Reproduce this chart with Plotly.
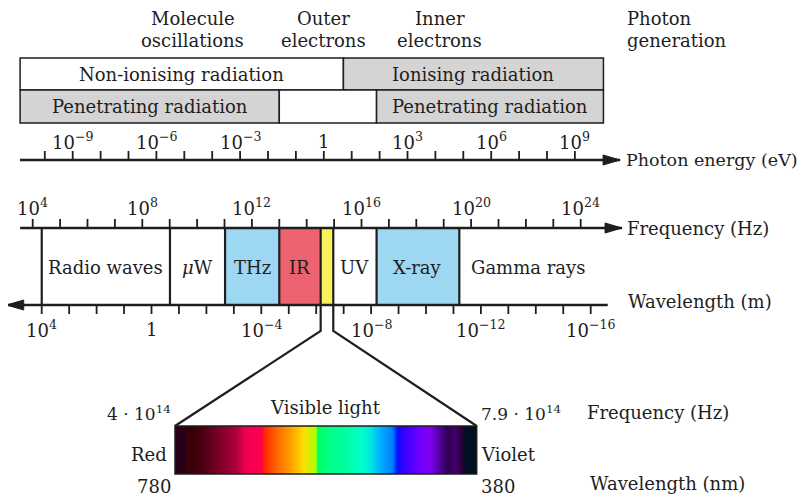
import plotly.graph_objects as go
import numpy as np

# ------------------------------------------------------------------ data
freq_tick_exps = list(range(4, 25))            # 10^4 ... 10^24 Hz
freq_label_exps = [4, 8, 12, 16, 20, 24]
energy_tick_exps = list(range(-10, 10))        # eV
energy_label_exps = [-9, -6, -3, 0, 3, 6, 9]
wave_tick_exps = list(range(4, -17, -1))       # m
wave_label_exps = [4, 0, -4, -8, -12, -16]

band_names = ["Radio waves", "<i>μ</i>W", "THz", "IR", "", "UV", "X-ray", "Gamma rays"]
band_lo = [4.33, 9.01, 11.02, 13.0, 14.51, 14.97, 16.55, 19.57]   # log10 f
band_hi = [9.01, 11.02, 13.0, 14.51, 14.97, 16.55, 19.57, 24.6]
band_colors = ["white", "white", "#9dd7f1", "#ec6271", "#fcf05b", "white", "#9dd7f1", "white"]

row1_names = ["Non-ionising radiation", "Ionising radiation"]
row1_lo = [3.54, 15.34]
row1_hi = [15.34, 24.83]
row1_colors = ["white", "#d4d4d4"]
row2_names = ["Penetrating radiation", "", "Penetrating radiation"]
row2_lo = [3.54, 13.0, 16.55]
row2_hi = [13.0, 16.55, 24.83]
row2_colors = ["#d4d4d4", "white", "#d4d4d4"]

process_line1 = ["Molecule", "Outer", "Inner"]
process_line2 = ["oscillations", "electrons", "electrons"]
process_freq = [9.85, 14.6, 18.86]

freq_axis_span = [3.54, 25.51]
energy_axis_span = [-10.89, 10.62]
wave_axis_span = [5.275, -16.62]

visible_nm = [780, 380]
visible_freq_text = ["4 · 10<sup>14</sup>", "7.9 · 10<sup>14</sup>"]
visible_color_names = ["Red", "Violet"]

spectrum_nm = [780, 765, 764, 754, 744, 698, 687, 665, 663, 647, 631, 618, 610,
               601, 593, 591, 578, 555, 534, 521, 508, 492, 485, 479, 455, 442,
               429, 419, 409, 398, 395, 380]
spectrum_colors = ["#2a0018", "#2a0018", "#3a0008", "#3a0005", "#4a0012", "#b0003c",
                   "#f00050", "#ff0050", "#ff2000", "#ff6000", "#ff9000", "#ffc000",
                   "#ffe000", "#d0f000", "#a8ff00", "#00ff60", "#00ff80", "#00ffa0",
                   "#00ffc8", "#00e8e0", "#00b0ff", "#0080ff", "#0010ff", "#3000ff",
                   "#7000ff", "#8000f0", "#5000a0", "#300050", "#40006a", "#200030",
                   "#001020", "#001020"]

# ------------------------------------------------------------------ layout geometry
W, H = 806, 500
OFF = 8                                      # page margin around the plot div
INK = "#1e1e1e"
FONT = "DejaVu Serif"
F_PX0, F_VAL0, F_PPU = 32.7, 4.0, 27.4       # frequency axis: page px of 10^4, px/decade
E_PX0, E_VAL0, E_PPU = 72.7, -9.0, 27.9      # energy axis
L_PX0, L_VAL0, L_PPU = 41.7, 4.0, 27.45      # wavelength axis (reversed)
V_PX0, V_VAL0, V_PPU = 175.0, 780.0, 301.7 / 400  # visible nm axis (reversed)

Y_ROW1_TOP, Y_ROW_MID, Y_ROW2_BOT = 58, 90, 123
Y_PROC1, Y_PROC2 = 18, 40
Y_E_AXIS, Y_E_LABEL = 160, 141
Y_F_LABEL, Y_F_AXIS = 207, 228
Y_W_AXIS, Y_W_LABEL = 305, 329
Y_BAND_LABEL = 267
Y_CONN = 331
Y_SPEC_TOP, Y_SPEC_BOT = 426, 474
TICK = 9
ARROW_L, ARROW_H = 17, 5
TICK_FS = 18


def rng(px0, val0, ppu, reverse=False):
    p = px0 - OFF
    if reverse:
        return [val0 + p / ppu, val0 - (W - p) / ppu]
    return [val0 - p / ppu, val0 + (W - p) / ppu]


def nm_to_freqaxis(nm):
    px = V_PX0 + (V_VAL0 - nm) * V_PPU
    return F_VAL0 + (px - F_PX0) / F_PPU


fig = go.Figure()
shapes = []
ann = []


def line_trace(xs, ys, xaxis, width):
    fig.add_trace(go.Scatter(x=xs, y=ys, mode="lines", xaxis=xaxis, yaxis="y",
                             line=dict(color=INK, width=width), hoverinfo="skip",
                             showlegend=False))


def arrow_head(x_tip, y, ppu, xaxis, direction):
    dx = direction * ARROW_L / ppu
    fig.add_trace(go.Scatter(x=[x_tip, x_tip - dx, x_tip - dx, x_tip],
                             y=[y, y - ARROW_H, y + ARROW_H, y], mode="lines",
                             fill="toself", fillcolor=INK, line=dict(color=INK, width=1),
                             xaxis=xaxis, yaxis="y", hoverinfo="skip", showlegend=False))


def sup_label(e):
    if e == 0:
        return "1"
    return "10<sup>%s</sup>" % (str(e).replace("-", "−"))


# ---- radiation boxes (top)
for names, lo, hi, cols, y0, y1 in [(row1_names, row1_lo, row1_hi, row1_colors, Y_ROW1_TOP, Y_ROW_MID),
                                    (row2_names, row2_lo, row2_hi, row2_colors, Y_ROW_MID, Y_ROW2_BOT)]:
    for n, a, b, c in zip(names, lo, hi, cols):
        shapes.append(dict(type="rect", xref="x", yref="y", x0=a, x1=b, y0=y0, y1=y1,
                           fillcolor=c, line=dict(color=INK, width=1.5), layer="below"))
        if n:
            ann.append(dict(x=(a + b) / 2, y=(y0 + y1) / 2, xref="x", yref="y", text=n,
                            showarrow=False, font=dict(size=18)))

for l1, l2, f in zip(process_line1, process_line2, process_freq):
    ann.append(dict(x=f, y=Y_PROC1, xref="x", yref="y", text=l1, showarrow=False,
                    font=dict(size=18)))
    ann.append(dict(x=f, y=Y_PROC2, xref="x", yref="y", text=l2, showarrow=False,
                    font=dict(size=18)))
ann.append(dict(x=energy_axis_span[1], y=Y_PROC1, xref="x2", yref="y", text="Photon",
                showarrow=False, xanchor="left", xshift=5, font=dict(size=18)))
ann.append(dict(x=energy_axis_span[1], y=Y_PROC2, xref="x2", yref="y", text="generation",
                showarrow=False, xanchor="left", xshift=5, font=dict(size=18)))

# ---- energy axis
line_trace(energy_axis_span, [Y_E_AXIS, Y_E_AXIS], "x2", 2.7)
arrow_head(energy_axis_span[1], Y_E_AXIS, E_PPU, "x2", 1)
xs, ys = [], []
for e in energy_tick_exps:
    xs += [e, e, None]
    ys += [Y_E_AXIS, Y_E_AXIS - TICK, None]
line_trace(xs, ys, "x2", 1.8)
for e in energy_label_exps:
    ann.append(dict(x=e, y=Y_E_LABEL, xref="x2", yref="y", text=sup_label(e),
                    showarrow=False, font=dict(size=TICK_FS), yanchor="middle"))
ann.append(dict(x=energy_axis_span[1], y=Y_E_AXIS, xref="x2", yref="y",
                text="Photon energy (eV)", showarrow=False, xanchor="left", xshift=4,
                font=dict(size=17.5)))

# ---- spectrum bands
for n, a, b, c in zip(band_names, band_lo, band_hi, band_colors):
    shapes.append(dict(type="rect", xref="x", yref="y", x0=a, x1=b, y0=Y_F_AXIS, y1=Y_W_AXIS,
                       fillcolor=c, line=dict(width=0), layer="below"))
    if n:
        ann.append(dict(x=(a + b) / 2, y=Y_BAND_LABEL, xref="x", yref="y", text=n,
                        showarrow=False, font=dict(size=18)))
xs, ys = [], []
for a in sorted(set(band_lo + band_hi[:-1])):
    xs += [a, a, None]
    ys += [Y_F_AXIS, Y_W_AXIS, None]
line_trace(xs, ys, "x", 2.2)

# ---- frequency axis
line_trace(freq_axis_span, [Y_F_AXIS, Y_F_AXIS], "x", 2.7)
arrow_head(freq_axis_span[1], Y_F_AXIS, F_PPU, "x", 1)
xs, ys = [], []
for e in freq_tick_exps:
    xs += [e, e, None]
    ys += [Y_F_AXIS, Y_F_AXIS - TICK, None]
line_trace(xs, ys, "x", 1.8)
for e in freq_label_exps:
    ann.append(dict(x=e, y=Y_F_LABEL, xref="x", yref="y", text=sup_label(e),
                    showarrow=False, font=dict(size=TICK_FS)))
ann.append(dict(x=freq_axis_span[1], y=Y_F_AXIS, xref="x", yref="y", text="Frequency (Hz)",
                showarrow=False, xanchor="left", xshift=3, font=dict(size=18)))

# ---- wavelength axis
line_trace(wave_axis_span, [Y_W_AXIS, Y_W_AXIS], "x3", 2.7)
arrow_head(wave_axis_span[0], Y_W_AXIS, L_PPU, "x3", 1)
xs, ys = [], []
for e in wave_tick_exps:
    xs += [e, e, None]
    ys += [Y_W_AXIS, Y_W_AXIS + TICK, None]
line_trace(xs, ys, "x3", 1.8)
for e in wave_label_exps:
    ann.append(dict(x=e, y=Y_W_LABEL, xref="x3", yref="y", text=sup_label(e),
                    showarrow=False, font=dict(size=TICK_FS)))
ann.append(dict(x=wave_axis_span[1], y=Y_W_AXIS - 4, xref="x3", yref="y", text="Wavelength (m)",
                showarrow=False, xanchor="left", xshift=18, font=dict(size=18)))

# ---- connector from visible band to spectrum
vis_lo, vis_hi = band_lo[4], band_hi[4]
line_trace([vis_lo, vis_lo, nm_to_freqaxis(visible_nm[0])], [Y_W_AXIS, Y_CONN, Y_SPEC_TOP], "x", 2.2)
line_trace([vis_hi, vis_hi, nm_to_freqaxis(visible_nm[1])], [Y_W_AXIS, Y_CONN, Y_SPEC_TOP], "x", 2.2)

# ---- visible spectrum
edges = np.linspace(visible_nm[0], visible_nm[1], 401)
centers = (edges[:-1] + edges[1:]) / 2
lo_nm, hi_nm = min(visible_nm), max(visible_nm)
cscale = sorted([[(v - lo_nm) / (hi_nm - lo_nm), c] for v, c in zip(spectrum_nm, spectrum_colors)],
                key=lambda t: t[0])
fig.add_trace(go.Heatmap(x=edges, y=[Y_SPEC_TOP, Y_SPEC_BOT], z=[centers], xaxis="x4", yaxis="y",
                         colorscale=cscale, zmin=lo_nm, zmax=hi_nm, showscale=False,
                         hoverinfo="skip"))
shapes.append(dict(type="rect", xref="x4", yref="y", x0=visible_nm[0], x1=visible_nm[1],
                   y0=Y_SPEC_TOP, y1=Y_SPEC_BOT, line=dict(color=INK, width=1.5)))

ann.append(dict(x=(visible_nm[0] + visible_nm[1]) / 2, y=407, xref="x4", yref="y",
                text="Visible light", showarrow=False, font=dict(size=18)))
for nm, ft, cn, side in zip(visible_nm, visible_freq_text, visible_color_names, ["right", "left"]):
    sh = -2 if side == "right" else 2
    ann.append(dict(x=nm, y=413, xref="x4", yref="y", text=ft, showarrow=False,
                    xanchor=side, xshift=sh, font=dict(size=17)))
    ann.append(dict(x=nm, y=454, xref="x4", yref="y", text=cn, showarrow=False,
                    xanchor=side, xshift=(-6 if side == "right" else 2), font=dict(size=18)))
    ann.append(dict(x=nm, y=486, xref="x4", yref="y", text=str(nm), showarrow=False,
                    xanchor=side, xshift=sh, font=dict(size=18)))
ann.append(dict(x=visible_nm[1], y=412, xref="x4", yref="y", text="Frequency (Hz)", showarrow=False,
                xanchor="left", xshift=108, font=dict(size=18)))
ann.append(dict(x=visible_nm[1], y=483, xref="x4", yref="y", text="Wavelength (nm)", showarrow=False,
                xanchor="left", xshift=111, font=dict(size=18)))

hidden = dict(visible=False, fixedrange=True)
fig.update_layout(
    width=W, height=H, margin=dict(l=0, r=0, t=0, b=0),
    paper_bgcolor="white", plot_bgcolor="white",
    font=dict(family=FONT, color=INK, size=18),
    xaxis=dict(range=rng(F_PX0, F_VAL0, F_PPU), domain=[0, 1], anchor="y", **hidden),
    xaxis2=dict(range=rng(E_PX0, E_VAL0, E_PPU), overlaying="x", anchor="y", **hidden),
    xaxis3=dict(range=rng(L_PX0, L_VAL0, L_PPU, reverse=True), overlaying="x", anchor="y", **hidden),
    xaxis4=dict(range=rng(V_PX0, V_VAL0, V_PPU, reverse=True), overlaying="x", anchor="y", **hidden),
    yaxis=dict(range=[H + OFF, OFF], domain=[0, 1], anchor="x", **hidden),
    shapes=shapes, annotations=ann, showlegend=False,
)
fig.write_html("out.html")
